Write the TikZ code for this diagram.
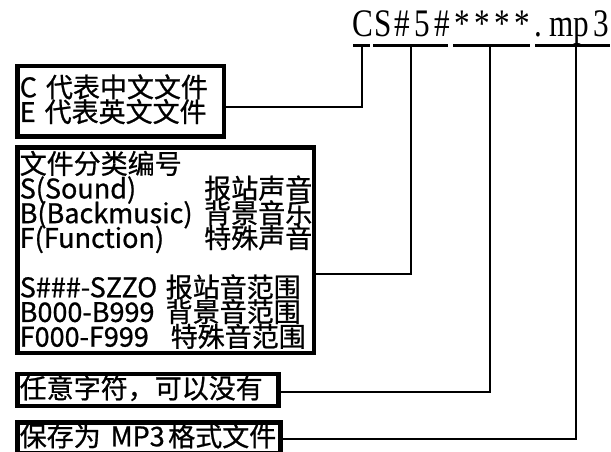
\documentclass[tikz,border=0pt]{standalone}
\usepackage{fontspec}
\usepackage{graphicx}
\newfontfamily\cjk[FakeBold=0.8]{Noto Sans CJK SC}
\newfontfamily\namefont{Liberation Serif}
\usetikzlibrary{positioning}
% one fixed cell of the file name
\newcommand{\namecell}[1]{\makebox[24.8pt]{#1}}

\begin{document}
\begin{tikzpicture}[
    x=1pt, y=-1pt,
    box/.style={draw, line width=4.5pt, anchor=north west, inner xsep=2.5pt, inner ysep=0pt, align=left, font={\cjk\fontsize{27}{24.7}\selectfont\lineskiplimit=-50pt}},
    link/.style={line width=2pt},
    seg/.style={line width=2.7pt}
]
    \useasboundingbox (0,0) rectangle (611,452);

    % file name on top
    \node[anchor=base west, inner sep=0pt] (fname) at (353,37) {\namefont\fontsize{39}{39}\selectfont\scalebox{0.8}[1]{%
        \namecell{C}\namecell{S}\namecell{\#}\namecell{5}\namecell{\#}\namecell{*}\namecell{*}\namecell{*}\namecell{*}\makebox[24.8pt][l]{\hspace{3pt}.}\namecell{m}\namecell{p}\namecell{3}}};

    % underlines of the parts
    \draw[seg] (353,45.3) -- (370,45.3);
    \draw[seg] (373,45.3) -- (448,45.3);
    \draw[seg] (453,45.3) -- (530,45.3);
    \draw[seg] (535,45.3) -- (610,45.3);
    \coordinate (lang-top) at (361.5,45.3);
    \coordinate (kind-top) at (411,45.3);
    \coordinate (any-top) at (489.5,45.3);
    \coordinate (ext-top) at (575.5,45.3);

    % explanation boxes
    \node[box, minimum width=206.5pt, minimum height=70pt, text width=201.5pt, text height=31pt, text depth=39pt] (lang) at (15,64) {C 代表中文文件\\E 代表英文文件};
    \node[box, minimum width=296.7pt, minimum height=205.5pt, text width=291.7pt, text height=26.5pt, text depth=179pt] (kind) at (15,145) {文件分类编号\\
        \makebox[184.5pt][l]{S(Sound)}报站声音\\
        \makebox[184.5pt][l]{B(Backmusic)}背景音乐\\
        \makebox[184.5pt][l]{F(Function)}特殊声音\\[24.7pt]
        \makebox[146pt][l]{S\#\#\#-SZZO}报站音范围\\
        \makebox[146pt][l]{B000-B999}背景音范围\\
        \makebox[151pt][l]{F000-F999}特殊音范围};
    \node[box, minimum width=261pt, minimum height=32pt, text width=256pt, text height=24.5pt, text depth=7.5pt] (any) at (15,371.5) {任意字符，可以没有};
    \node[box, minimum width=263.3pt, minimum height=30.2pt, text width=258.3pt, text height=23.7pt, text depth=6.5pt] (ext) at (15,420.3) {\makebox[91pt][l]{保存为}\makebox[57.5pt][l]{MP3}格式文件};

    % connectors
    \draw[link] (lang-top) |- ([yshift=-6pt]lang.east);
    \draw[link] (kind-top) |- ([yshift=-24.25pt]kind.east);
    \draw[link] (any-top) |- ([yshift=-2pt]any.east);
    \draw[link] (ext-top) |- ([yshift=-1.6pt]ext.east);
\end{tikzpicture}
\end{document}
